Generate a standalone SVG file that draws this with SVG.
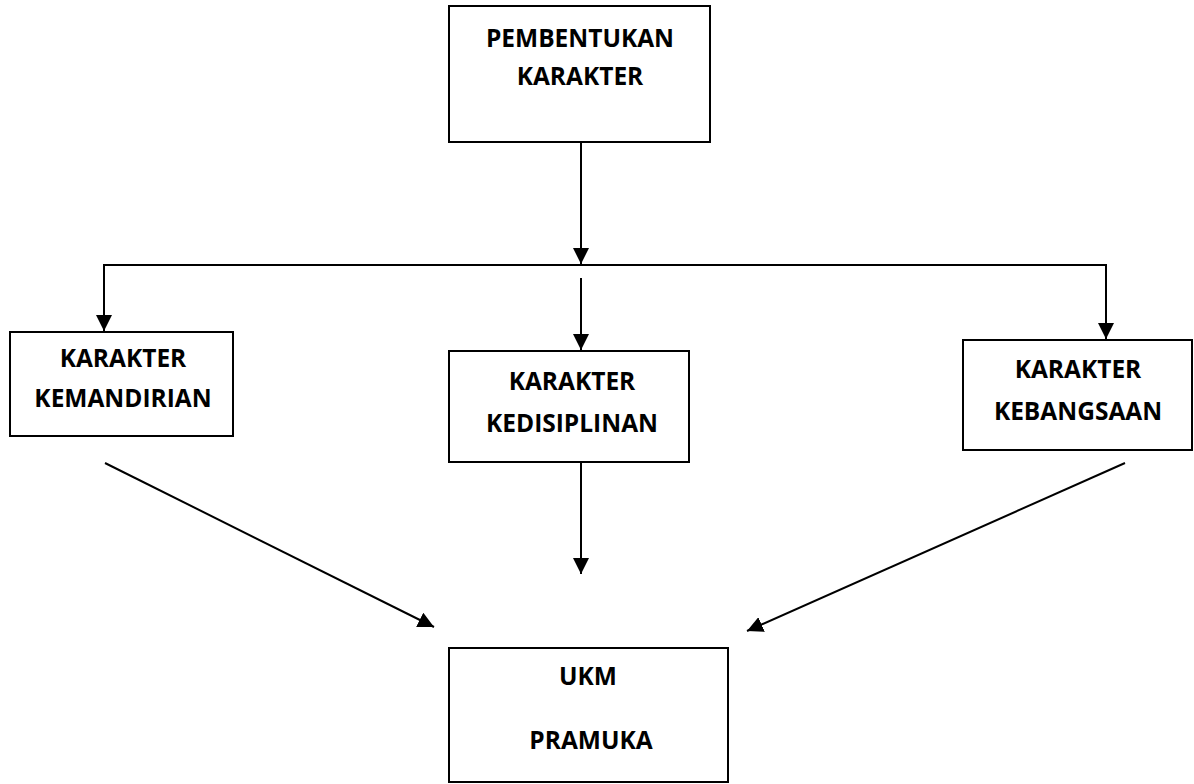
<svg xmlns="http://www.w3.org/2000/svg" width="1194" height="784" viewBox="0 0 1194 784">
<style>
.box{fill:#fff;stroke:#000;stroke-width:2}
.t{font-family:"Open Sans","Liberation Sans",sans-serif;font-weight:bold;font-size:24.5px;fill:#000;text-anchor:middle}
.c{stroke:#000;stroke-width:2;fill:none}
</style>
<defs>
<marker id="ah" viewBox="0 0 10 10" refX="10" refY="5" markerWidth="8" markerHeight="8" markerUnits="strokeWidth" orient="auto">
<path d="M0,0 L10,5 L0,10 z" fill="#000"/>
</marker>
</defs>
<rect width="1194" height="784" fill="#fff"/>
<g id="connectors">
<line class="c" x1="581" y1="142" x2="581" y2="264" marker-end="url(#ah)"/>
<polyline class="c" points="581,265 104,265 104,331" marker-end="url(#ah)"/>
<polyline class="c" points="581,265 1106,265 1106,339" marker-end="url(#ah)"/>
<line class="c" x1="581" y1="278" x2="581" y2="350" marker-end="url(#ah)"/>
<line class="c" x1="581" y1="462" x2="581" y2="574" marker-end="url(#ah)"/>
<line class="c" x1="105" y1="463" x2="434" y2="627" marker-end="url(#ah)"/>
<line class="c" x1="1125" y1="463" x2="747" y2="631" marker-end="url(#ah)"/>
</g>
<g id="n1"><rect class="box" x="449" y="6" width="261" height="136"/>
<text class="t" x="580" y="47">PEMBENTUKAN</text><text class="t" x="580" y="85">KARAKTER</text></g>
<g id="n2"><rect class="box" x="10" y="332" width="223" height="104"/>
<text class="t" x="123" y="367">KARAKTER</text><text class="t" x="123" y="407">KEMANDIRIAN</text></g>
<g id="n3"><rect class="box" x="449" y="351" width="240" height="111"/>
<text class="t" x="572" y="390">KARAKTER</text><text class="t" x="572" y="432">KEDISIPLINAN</text></g>
<g id="n4"><rect class="box" x="963" y="340" width="229" height="110"/>
<text class="t" x="1078" y="378">KARAKTER</text><text class="t" x="1078" y="420">KEBANGSAAN</text></g>
<g id="n5"><rect class="box" x="449" y="648" width="279" height="134"/>
<text class="t" x="588" y="685">UKM</text><text class="t" x="591" y="749">PRAMUKA</text></g>
</svg>
